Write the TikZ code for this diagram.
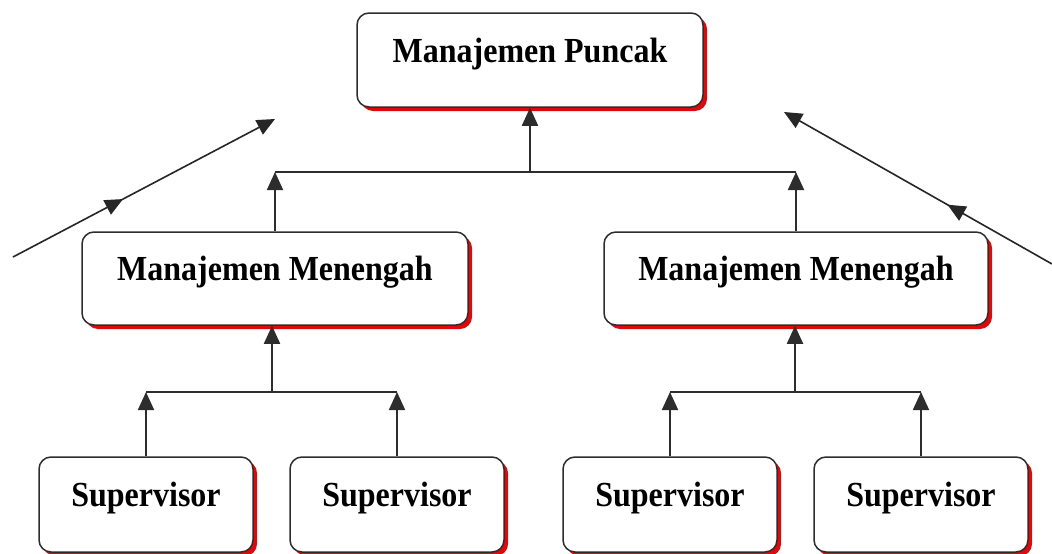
\documentclass[tikz,border=0pt]{standalone}
\usepackage{fontspec}
\setmainfont{Liberation Serif}
\usetikzlibrary{arrows.meta,shadows,decorations.markings}
\definecolor{shred}{RGB}{220,10,10}
\definecolor{edge}{RGB}{45,45,45}
\newcommand{\lbl}[1]{\scalebox{1}[1.1]{#1}}
\begin{document}
\begin{tikzpicture}[x=1pt,y=-1pt,
  box/.style={draw=edge, line width=1.5pt, fill=white, rounded corners=12pt,
    font=\fontsize{32}{36}\selectfont\bfseries, text height=22pt, text depth=18pt,
    inner sep=0pt,
    general shadow={fill=shred, shadow xshift=4pt, shadow yshift=-4pt}},
  supbox/.style={box, minimum width=214pt, minimum height=95pt},
  midbox/.style={box, minimum height=93pt},
  tip/.style={-{Triangle[length=18pt,width=16pt]}},
  arr/.style={draw=edge, line width=1.8pt, tip},
  link/.style={draw=edge, line width=1.6pt},
  diag/.style={draw=black!85, line width=1.6pt, tip, postaction={decorate}},
  midtip/.style={decoration={markings, mark=at position #1 with {\arrow{Triangle[length=18pt,width=16pt]}}}}
]
\useasboundingbox[fill=white] (0,0) rectangle (1052,554);

% diagonal arrows
\coordinate (la) at (13,257);
\coordinate (lb) at (275,119);
\coordinate (ra) at (1052,264);
\coordinate (rb) at (784,112);
\draw[diag, midtip=0.42] (la) -- (lb);
\draw[diag, midtip=0.39] (ra) -- (rb);

% nodes
\node[box, minimum width=346pt, minimum height=94pt] (top) at (530,60) {\lbl{Manajemen Puncak}};
\node[midbox, minimum width=386pt] (ml) at (275,278.5) {\lbl{Manajemen Menengah}};
\node[midbox, minimum width=384pt] (mr) at (796,278.5) {\lbl{Manajemen Menengah}};
\node[supbox] (s1) at (146,504.5) {\lbl{Supervisor}};
\node[supbox] (s2) at (397,504.5) {\lbl{Supervisor}};
\node[supbox] (s3) at (670,504.5) {\lbl{Supervisor}};
\node[supbox] (s4) at (921,504.5) {\lbl{Supervisor}};

% junctions
\coordinate (jt) at (530,172);
\coordinate (jl) at (272,392);
\coordinate (jr) at (795,392);

% top level connectors
\draw[link] (ml.north |- jt) -- (mr.north |- jt);
\draw[arr] (ml.north) -- (ml.north |- jt);
\draw[arr] (mr.north) -- (mr.north |- jt);
\draw[arr] (jt) -- (jt |- top.south);

% left group
\draw[link] (s1.north |- jl) -- (s2.north |- jl);
\draw[arr] (s1.north) -- (s1.north |- jl);
\draw[arr] (s2.north) -- (s2.north |- jl);
\draw[arr] (jl) -- (jl |- ml.south);

% right group
\draw[link] (s3.north |- jr) -- (s4.north |- jr);
\draw[arr] (s3.north) -- (s3.north |- jr);
\draw[arr] (s4.north) -- (s4.north |- jr);
\draw[arr] (jr) -- (jr |- mr.south);
\end{tikzpicture}
\end{document}
